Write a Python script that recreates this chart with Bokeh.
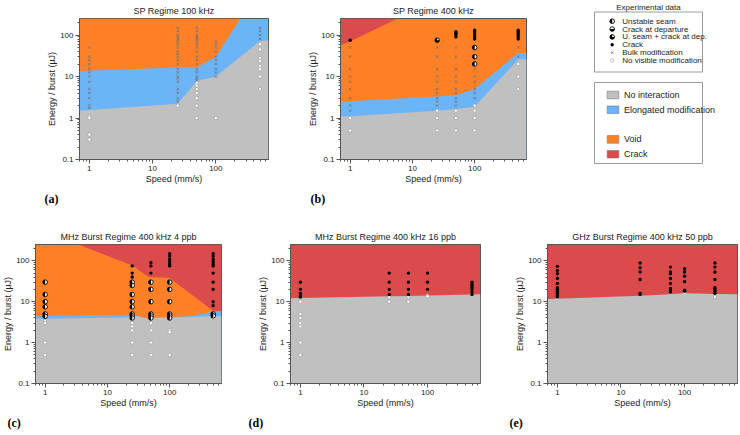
import math
from bokeh.plotting import figure
from bokeh.layouts import row, column
from bokeh.models import Range1d, Title, LogTickFormatter
from bokeh.core.properties import value
from bokeh.embed import file_html
from bokeh.resources import INLINE

# ---------------- axis ranges ----------------
XMIN, XMAX = 0.7, 680
YMIN, YMAX = 0.1, 250

GRAY = "#c0c0c0"
BLUE = "#6cb4f8"
ORANGE = "#ff8026"
RED = "#db4b4c"
FONT = "Liberation Sans"
TXT = "#222222"

# ---------------- panel (a) SP 100 kHz ----------------
A_NOINT_X = [0.7, 25, 50, 100, 500, 680]
A_NOINT_Y = [1.5, 2.2, 7.8, 10, 72, 75]
A_VOID_X = [0.7, 25, 50, 100, 245]
A_VOID_Y = [13.6, 16.5, 16.5, 30, 250]
A_BULK = {1: [50, 30, 25, 20, 15, 12.5, 10, 7.5, 5, 4, 3, 2, 1.75],
          25: [150, 125, 100, 90, 80, 70, 60, 50, 40, 35, 30, 25, 20, 15, 12.5, 10, 9, 7.5, 5, 4, 3, 2.5],
          50: [150, 125, 100, 90, 80, 70, 60, 50, 40, 30, 25, 20, 15, 12.5, 10, 9, 8],
          100: [70, 60, 50, 40, 30, 25, 20, 15, 12.5, 10],
          500: [150, 125, 100, 80]}
A_NOVIS = {1: [1.1, 1, 0.4, 0.3], 25: [2], 50: [7, 6, 5, 4, 3, 2, 1], 100: [1],
           500: [60, 45, 28, 23.5, 18, 15, 10, 5]}

# ---------------- panel (b) SP 400 kHz ----------------
B_NOINT_X = [0.7, 1, 25, 50, 100, 500, 680]
B_NOINT_Y = [1.09, 1.1, 1.5, 1.65, 1.87, 26, 26]
B_ELONG_X = [0.7, 25, 50, 100, 500, 680]
B_ELONG_Y = [2.46, 3.3, 3.55, 5.0, 37, 37]
B_CRACK_X = [0.7, 1, 5.8]
B_CRACK_Y = [57, 70, 250]
B_CRACKPTS = {1: [75], 50: [90, 100, 110, 120], 100: [80, 90, 100, 110, 120, 130],
              500: [80, 90, 100, 110, 120, 130]}
B_USEAM_CDEP = {25: [75]}
B_USEAM = {100: [50, 30, 20]}
B_BULK = {1: [50, 30, 15, 10, 7.5, 5, 3, 2, 1.5],
          25: [50, 30, 15, 10, 7.5, 5, 4, 3, 2.5, 2],
          50: [50, 30, 15, 10, 7.5, 5, 4, 3, 2.5, 2],
          100: [15, 10, 7.5, 5, 4, 3],
          500: [50, 30]}
B_NOVIS = {1: [1, 0.5], 25: [1.5, 1, 0.5], 50: [1.5, 1, 0.5], 100: [2, 1.5, 1, 0.5], 500: [20, 10, 5]}

# ---------------- panel (c) MHz burst 4 ppb ----------------
C_NOINT_X = [0.7, 1, 20, 25, 40, 50, 100, 200, 500, 680]
C_NOINT_Y = [3.85, 3.85, 4.1, 4.6, 4.0, 4.0, 4.1, 4.2, 4.4, 4.4]
C_ELONG_X = [0.7, 1, 20, 25, 40, 50, 100, 200, 500, 680]
C_ELONG_Y = [4.4, 4.45, 4.7, 4.8, 4.0, 4.0, 4.15, 4.4, 5.6, 5.8]
C_CRACK_X = [3.4, 25, 46, 100, 510, 680]
C_CRACK_Y = [250, 77, 40, 38, 5.85, 6.0]
C_CRACKPTS = {25: [75, 50, 40], 50: [90, 75, 50], 100: [150, 130, 110, 96, 84, 75],
              500: [150, 130, 110, 96, 84, 75, 50, 30, 20, 10, 8]}
C_USEAM = {1: [30, 15, 10, 7.5, 5, 4.4], 25: [30, 25, 15, 10, 7.5, 5, 4.5, 4],
           50: [30, 20, 10, 5, 4.5, 4], 100: [30, 20, 10, 5, 4.5, 4], 500: [5, 4.5]}
C_NOVIS = {1: [3.4, 3, 1, 0.5], 25: [3, 2.5, 2, 1, 0.5], 50: [3, 2, 1, 0.5], 100: [2, 1.8, 0.5], 500: [4]}

# ---------------- panel (d) MHz burst 16 ppb ----------------
D_NOINT_X = [0.7, 1, 25, 50, 100, 500, 680]
D_NOINT_Y = [12.2, 12.3, 13.5, 13.8, 14.2, 15, 15.2]
D_CRACKPTS = {1: [30, 20, 16, 14, 13], 25: [50, 30, 20, 15], 50: [50, 30, 20, 15], 100: [50, 30, 20],
              500: [30, 27.5, 25, 22.5, 20, 17.5, 15]}
D_NOVIS = {1: [10, 5, 4, 3, 2.5, 1, 0.5], 25: [13, 10], 50: [13, 10], 100: [14, 13.5], 500: [14]}

# ---------------- panel (e) GHz burst 50 ppb ----------------
E_NOINT_X = [0.7, 1, 20, 60, 100, 300, 680]
E_NOINT_Y = [11.6, 11.8, 13.9, 15.2, 16, 15.5, 15.3]
E_CRACKPTS = {1: [73, 58, 48, 37, 28, 22, 20, 18, 16, 14, 13], 20: [88, 68, 53, 35, 16, 15],
              60: [70, 53, 48, 37, 28, 21, 19, 17], 100: [64, 53, 42, 31, 19, 18],
              300: [88, 70, 53, 35, 22, 20, 18, 16]}
E_NOVIS = {1: [12], 20: [14], 60: [16], 100: [16.5], 300: [14, 13]}

LEG_MARK_LABELS = ["Unstable seam", "Crack at departure", "U. seam + crack at dep.",
                   "Crack", "Bulk modification", "No visible modification"]
LEG_MARK_KINDS = ["useam", "cdep", "useam_cdep", "crack", "bulk", "novis"]
LEG_REGION_LABELS = ["No interaction", "Elongated modification", "", "Void", "Crack"]
LEG_REGION_COLORS = [GRAY, BLUE, None, ORANGE, RED]


def no_align(p):
    try:
        p.frame_align = False
    except Exception:
        pass


def flatten(d):
    xs, ys = [], []
    for k, vals in d.items():
        for v in vals:
            xs.append(k)
            ys.append(v)
    return xs, ys


def draw_kind(p, kind, xs, ys):
    if not xs:
        return
    if kind == "crack":
        p.scatter(xs, ys, marker="circle", size=3.4, fill_color="black", line_color=None)
    elif kind == "bulk":
        p.scatter(xs, ys, marker="x", size=3.4, line_color="#707070", line_width=0.8)
    elif kind == "novis":
        p.scatter(xs, ys, marker="circle", size=3.2, fill_color="white", line_color="#999999",
                  line_width=0.6)
    else:
        p.scatter(xs, ys, marker="circle", size=4.6, fill_color="white", line_color="black",
                  line_width=0.9)
        if kind == "useam":
            a0, a1 = math.pi / 2, 3 * math.pi / 2
        elif kind == "cdep":
            a0, a1 = math.pi, 2 * math.pi
        else:
            a0, a1 = math.pi / 2, 2 * math.pi
        p.wedge(xs, ys, radius=2.3, radius_units="screen", start_angle=a0, end_angle=a1,
                fill_color="black", line_color=None)


def closed(xs, ys, side):
    edge = YMAX if side == "above" else YMIN
    return list(xs) + [xs[-1], xs[0]], list(ys) + [edge, edge]


def make_panel(title, letter, letter_offset, width, height, L, R, T, B, base, layers, points):
    p = figure(width=width, height=height, x_axis_type="log", y_axis_type="log",
               x_range=Range1d(XMIN, XMAX), y_range=Range1d(YMIN, YMAX),
               toolbar_location=None, output_backend="svg",
               min_border_left=L, min_border_right=R, min_border_top=T, min_border_bottom=B)
    no_align(p)
    p.background_fill_color = base
    p.border_fill_color = "white"
    p.outline_line_color = "#555555"
    p.grid.visible = False
    p.title.text = title
    p.title.align = "center"
    p.title.text_font = FONT
    p.title.text_font_size = "9px"
    p.title.text_font_style = "normal"
    p.title.text_color = TXT
    p.title.standoff = 6
    for ax in (p.xaxis[0], p.yaxis[0]):
        ax.formatter = LogTickFormatter(min_exponent=3)
        ax.major_label_text_font = FONT
        ax.major_label_text_font_size = "8px"
        ax.major_label_text_color = TXT
        ax.axis_label_text_font = FONT
        ax.axis_label_text_font_size = "9px"
        ax.axis_label_text_font_style = "normal"
        ax.axis_label_text_color = TXT
        ax.axis_line_color = "#555555"
        ax.major_tick_line_color = "#555555"
        ax.minor_tick_line_color = "#555555"
        ax.major_tick_in = 0
        ax.major_tick_out = 4
        ax.minor_tick_in = 0
        ax.minor_tick_out = 2
        ax.major_label_standoff = 2
        ax.axis_label_standoff = 0
    p.xaxis.axis_label = "Speed (mm/s)"
    p.yaxis.axis_label = "Energy / burst (µJ)"
    for color, side, bx, by in layers:
        px, py = closed(bx, by, side)
        p.patch(px, py, fill_color=color, line_color=None)
    for kind, d in points:
        xs, ys = flatten(d)
        draw_kind(p, kind, xs, ys)
    p.add_layout(Title(text=letter, align="left", offset=letter_offset, text_font="Liberation Serif",
                       text_font_size="12px", text_font_style="bold", text_color="black",
                       standoff=7), "below")
    return p


H1, H2 = 215, 220
FW1, FW2 = 189, 190
fa = make_panel("SP Regime 100 kHz", "(a)", -35, 79 + FW1 + 37, H1, 79, 37, 18, 56, BLUE,
                [(ORANGE, "above", A_VOID_X, A_VOID_Y), (GRAY, "below", A_NOINT_X, A_NOINT_Y)],
                [("bulk", A_BULK), ("novis", A_NOVIS)])
fb = make_panel("SP Regime 400 kHz", "(b)", -30, 32 + FW1 + 4, H1, 32, 4, 18, 56, ORANGE,
                [(RED, "above", B_CRACK_X, B_CRACK_Y), (BLUE, "below", B_ELONG_X, B_ELONG_Y),
                 (GRAY, "below", B_NOINT_X, B_NOINT_Y)],
                [("bulk", B_BULK), ("novis", B_NOVIS), ("crack", B_CRACKPTS),
                 ("useam", B_USEAM), ("useam_cdep", B_USEAM_CDEP)])
fc = make_panel("MHz Burst Regime 400 kHz 4 ppb", "(c)", -28, 31 + FW2 + 20, H2, 31, 20, 29, 52, ORANGE,
                [(RED, "above", C_CRACK_X, C_CRACK_Y), (BLUE, "below", C_ELONG_X, C_ELONG_Y),
                 (GRAY, "below", C_NOINT_X, C_NOINT_Y)],
                [("novis", C_NOVIS), ("crack", C_CRACKPTS), ("useam", C_USEAM)])
fd = make_panel("MHz Burst Regime 400 kHz 16 ppb", "(d)", -42, 49 + FW2 + 20, H2, 49, 20, 29, 52, RED,
                [(GRAY, "below", D_NOINT_X, D_NOINT_Y)],
                [("novis", D_NOVIS), ("crack", D_CRACKPTS)])
fe = make_panel("GHz Burst Regime 400 kHz 50 ppb", "(e)", -38, 47 + FW2 + 3, H2, 47, 3, 29, 52, RED,
                [(GRAY, "below", E_NOINT_X, E_NOINT_Y)],
                [("novis", E_NOVIS), ("crack", E_CRACKPTS)])

# ---------------- legend panel ----------------
LW = 740 - (79 + FW1 + 37) - (32 + FW1 + 4)
fl = figure(width=LW, height=H1, x_range=Range1d(0, LW), y_range=Range1d(0, H1),
            toolbar_location=None, output_backend="svg", min_border=0, title=None,
            x_axis_location=None, y_axis_location=None)
no_align(fl)
fl.grid.visible = False
fl.outline_line_color = None
fl.background_fill_color = "white"


def ly(y_top):
    return H1 - y_top


BX0, BX1 = 64, 172
# box 1 (experimental data)
fl.quad(left=[BX0], right=[BX1], top=[ly(11.5)], bottom=[ly(71.5)], fill_color="white",
        line_color="#9a9a9a", line_width=1)
fl.text(x=[(BX0 + BX1) / 2], y=[ly(6.5)], text=["Experimental data"], text_font=value(FONT),
        text_font_size="8px", text_align="center", text_baseline="middle", text_color=TXT)
for i, (lab, kind) in enumerate(zip(LEG_MARK_LABELS, LEG_MARK_KINDS)):
    yy = ly(20.7 + i * 7.86)
    draw_kind(fl, kind, [BX0 + 17.7], [yy])
    fl.text(x=[BX0 + 27.7], y=[yy], text=[lab], text_font=value(FONT), text_font_size="8px",
            text_align="left", text_baseline="middle", text_color=TXT)

# box 2 (regions)
fl.quad(left=[BX0], right=[BX1], top=[ly(82)], bottom=[ly(163)], fill_color="white",
        line_color="#9a9a9a", line_width=1)
for i, (lab, col) in enumerate(zip(LEG_REGION_LABELS, LEG_REGION_COLORS)):
    if col is None:
        continue
    yc = ly(94.5 + i * 14.8)
    fl.quad(left=[BX0 + 12.7], right=[BX0 + 24.3], top=[yc + 3.8], bottom=[yc - 3.8], fill_color=col,
            line_color="#777777", line_width=0.6)
    fl.text(x=[BX0 + 29.5], y=[yc], text=[lab], text_font=value(FONT), text_font_size="9px",
            text_align="left", text_baseline="middle", text_color=TXT)

layout = column(row(fa, fb, fl), row(fc, fd, fe))

open("out.html", "w").write(file_html(layout, INLINE))
